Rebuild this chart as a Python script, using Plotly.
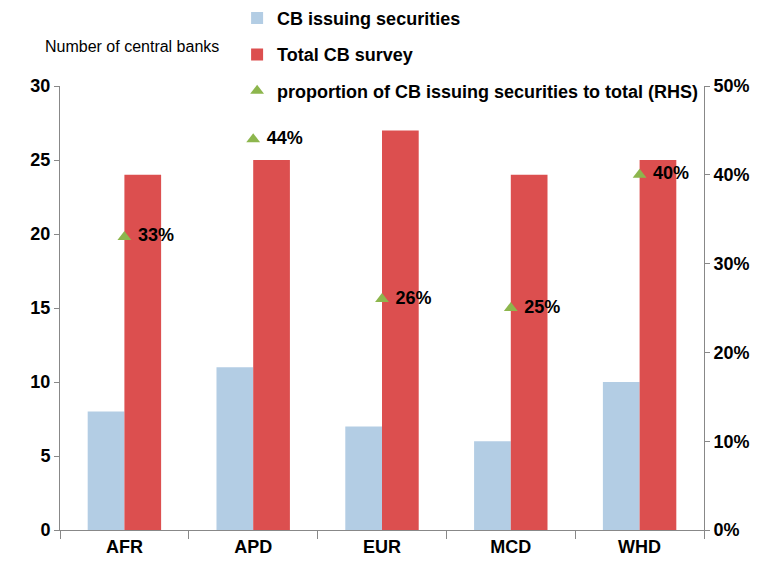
import plotly.graph_objects as go

regions = ["AFR", "APD", "EUR", "MCD", "WHD"]
cb_issuing = [8, 11, 7, 6, 10]
total_cb = [24, 25, 27, 24, 25]
proportion = [0.33, 0.44, 0.26, 0.25, 0.40]
prop_labels = ["33%", "44%", "26%", "25%", "40%"]

font_main = "Liberation Sans, Arial"
bold18 = dict(size=18, family=font_main, color="black", weight="bold")

fig = go.Figure()
fig.add_trace(go.Bar(x=regions, y=cb_issuing, name="CB issuing securities",
                     marker=dict(color="#B3CDE4", line=dict(width=0)), legendgroup="a"))
fig.add_trace(go.Bar(x=regions, y=total_cb, name="Total CB survey",
                     marker=dict(color="#DC4F4F", line=dict(width=0)), legendgroup="b"))
fig.add_trace(go.Scatter(x=regions, y=proportion, yaxis="y2", mode="markers+text",
                         name="proportion of CB issuing securities to total (RHS)",
                         text=[" " + t for t in prop_labels], textposition="middle right",
                         textfont=bold18,
                         marker=dict(symbol="triangle-up", size=12, color="#8DB64D"),
                         legendgroup="c"))

# page body adds 8px offset, so margins are shifted accordingly
fig.update_layout(
    width=767, height=575,
    plot_bgcolor="white", paper_bgcolor="white",
    margin=dict(l=52, r=71, t=78, b=53, autoexpand=False),
    barmode="group", bargap=0.43, bargroupgap=0,
    font=dict(family=font_main, size=18, color="black"),
    showlegend=True,
    legend=dict(x=0.275, y=1.194, xanchor="left", yanchor="top",
                font=bold18, tracegroupgap=10, itemwidth=30,
                bgcolor="rgba(0,0,0,0)"),
    xaxis=dict(showline=True, linecolor="#888888", linewidth=1,
               ticks="outside", tickson="boundaries", ticklen=8, tickcolor="#888888",
               tickfont=bold18, showgrid=False),
    yaxis=dict(range=[0, 30], dtick=5, showline=True, linecolor="#888888",
               ticks="outside", ticklen=5, tickcolor="#888888", showgrid=False,
               zeroline=False, tickfont=bold18),
    yaxis2=dict(range=[0, 0.5], dtick=0.1, tickformat=".0%", overlaying="y", side="right",
                showline=True, linecolor="#888888", ticks="outside", ticklen=5,
                tickcolor="#888888", showgrid=False, zeroline=False,
                tickfont=bold18),
    annotations=[dict(text="Number of central banks", xref="paper", yref="paper",
                      x=-0.027, y=1.088, xanchor="left", yanchor="middle", showarrow=False,
                      font=dict(size=16, family=font_main, color="black"))],
)

fig.write_html("out.html")
